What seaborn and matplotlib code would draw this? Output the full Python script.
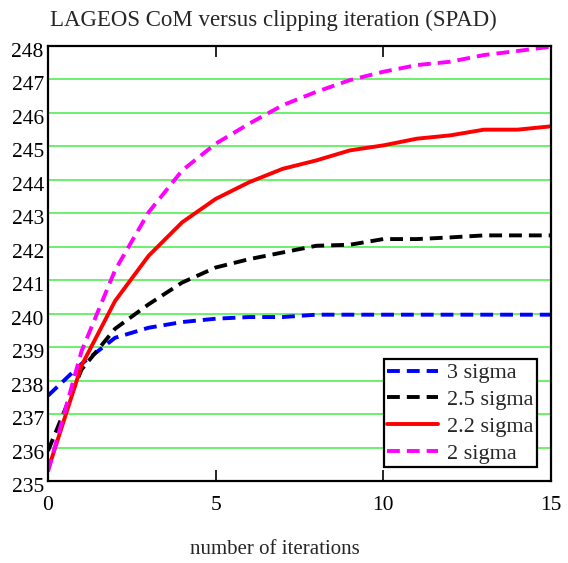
import numpy as np
import pandas as pd
import matplotlib
matplotlib.use("Agg")
import matplotlib.pyplot as plt
from matplotlib.transforms import ScaledTranslation
import seaborn as sns

iterations = list(range(16))
sigma_3 = [237.55, 238.5, 239.28, 239.58, 239.75, 239.85, 239.9, 239.9, 239.97, 239.97, 239.97, 239.97, 239.97, 239.97, 239.97, 239.97]
sigma_25 = [235.9, 238.33, 239.55, 240.28, 240.93, 241.38, 241.63, 241.83, 242.03, 242.06, 242.23, 242.23, 242.28, 242.34, 242.34, 242.34]
sigma_22 = [235.33, 238.45, 240.38, 241.73, 242.73, 243.43, 243.93, 244.33, 244.58, 244.88, 245.03, 245.23, 245.33, 245.5, 245.5, 245.6]
sigma_2 = [235.28, 238.88, 241.3, 243.03, 244.28, 245.08, 245.68, 246.23, 246.63, 246.98, 247.23, 247.43, 247.53, 247.73, 247.85, 247.98]
labels = ["3 sigma", "2.5 sigma", "2.2 sigma", "2 sigma"]
colors = ["#0000ff", "#000000", "#ff0000", "#ff00ff"]
yticks = list(range(235, 249))
xticks = [0, 5, 10, 15]

sns.set_theme(style="white")
plt.rcParams['font.family'] = ['Liberation Serif', 'DejaVu Serif']

fig = plt.figure(figsize=(5.68, 5.63), dpi=100)
ax = fig.add_axes([48/568, 1-481/563, (551-48)/568, (481-46)/563])

series = [sigma_3, sigma_25, sigma_22, sigma_2]
styles = [(0, (3.3, 1.8)), (0, (3.3, 1.8)), '-', (0, (3.3, 1.8))]
for vals, lab, col, ls in zip(series, labels, colors, styles):
    df = pd.DataFrame({"it": iterations, "v": vals})
    sns.lineplot(data=df, x="it", y="v", ax=ax, color=col, label=lab,
                 linewidth=2.8, linestyle=ls)

ax.set_xlim(0, 15)
ax.set_ylim(235, 248)
ax.set_xticks(xticks)
ax.set_yticks(yticks)
ax.tick_params(axis='x', direction='in', length=8, width=1.2, top=True, bottom=True,
               labelsize=15.5, pad=11, colors='black')
ax.tick_params(axis='y', length=0, labelsize=15.5, pad=3, colors='black')
for lbl in ax.get_xticklabels() + ax.get_yticklabels():
    lbl.set_color('black')
off = ScaledTranslation(0, -4/100, fig.dpi_scale_trans)
for lbl in ax.get_yticklabels():
    lbl.set_transform(lbl.get_transform() + off)
ax.yaxis.grid(True, color='#44ee44', linewidth=1.1)
ax.xaxis.grid(False)
for s in ax.spines.values():
    s.set_color('black')
    s.set_linewidth(1.6)
ax.set_xlabel("")
ax.set_ylabel("")
fig.text(275/568, 1-550/563, "number of iterations", ha='center', va='center', fontsize=15)
fig.text(273/568, 1-20/563, "LAGEOS CoM versus clipping iteration (SPAD)", ha='center', va='center', fontsize=16.5)

leg = ax.legend(loc='lower right', bbox_to_anchor=((537-48)/503, (481-467)/435),
                fontsize=16, frameon=True, fancybox=False, handlelength=2.3,
                borderpad=0.15, labelspacing=0.28, handletextpad=0.4, borderaxespad=0)
leg.get_frame().set_edgecolor('black')
leg.get_frame().set_linewidth(1.6)
leg.get_frame().set_alpha(1)

fig.savefig("out.png", dpi=100)
